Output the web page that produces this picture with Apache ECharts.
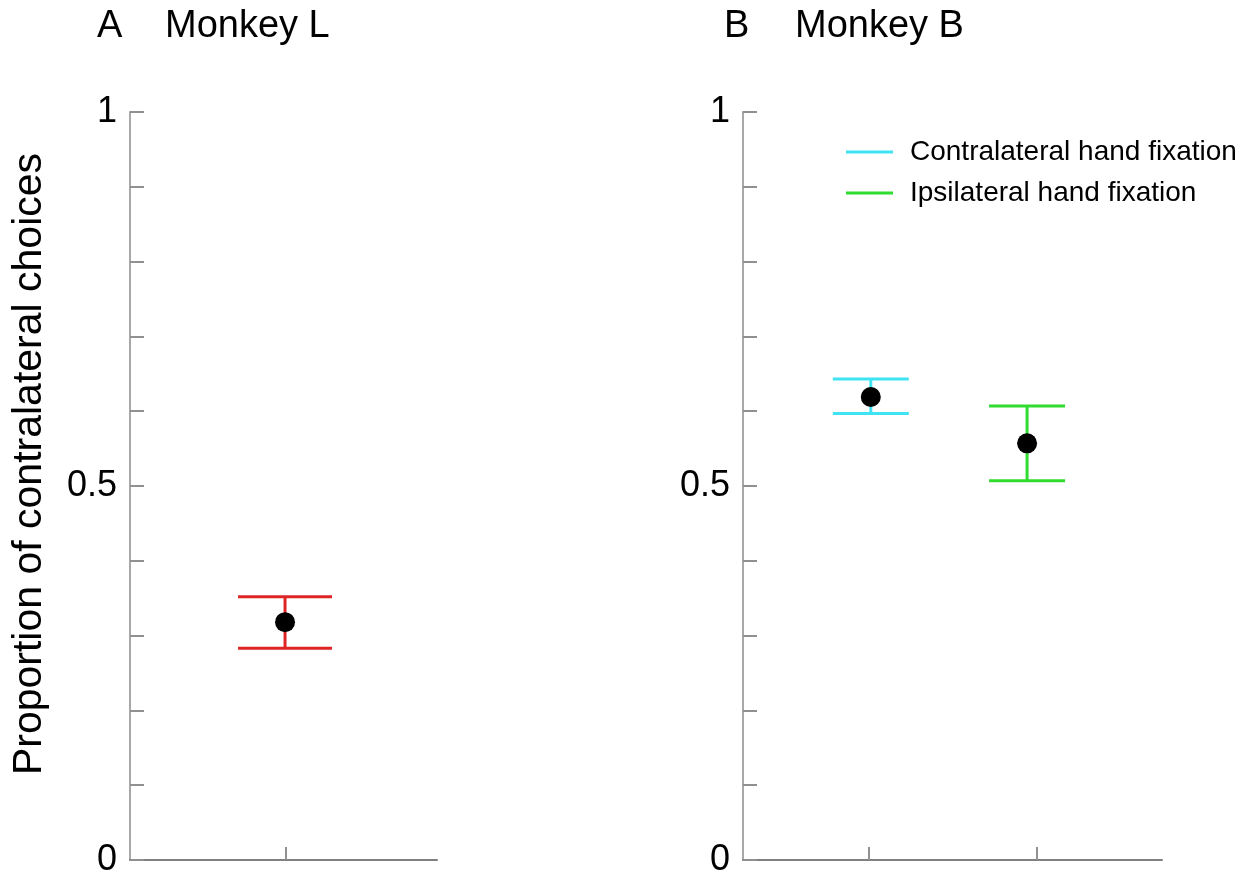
<!DOCTYPE html>
<html>
<head>
<meta charset="utf-8">
<script src="https://cdn.jsdelivr.net/npm/echarts@6/dist/echarts.min.js"></script>
<style>html,body{margin:0;padding:0;background:#fff}#c{width:1252px;height:871px}</style>
</head>
<body>
<div id="c"></div>
<script>
// ---- data ----
const monkeyLX = [0.505];
const monkeyLMean = [0.318];
const monkeyLLow = [0.283];
const monkeyLHigh = [0.352];

const contraX = [0.305];
const contraMean = [0.619];
const contraLow = [0.597];
const contraHigh = [0.643];

const ipsiX = [0.678];
const ipsiMean = [0.557];
const ipsiLow = [0.507];
const ipsiHigh = [0.607];

const xTicksA = [0.508];
const xTicksB = [0.3, 0.7];
const yTickLabels = [0, 0.5, 1];
const legendNames = ['Contralateral hand fixation', 'Ipsilateral hand fixation'];

// ---- helpers ----
const FONT = 'Liberation Sans, Arial, sans-serif';
function rows(xs, a, b) { return xs.map((x, i) => [x, a[i], b[i]]); }
function pts(xs, ys) { return xs.map((x, i) => [x, ys[i]]); }
function errRender(capHalf) {
  return function (params, api) {
    const x = api.value(0), lo = api.value(1), hi = api.value(2);
    const pLo = api.coord([x, lo]);
    const pHi = api.coord([x, hi]);
    const style = { stroke: api.visual('color'), lineWidth: 3 };
    return {
      type: 'group',
      children: [
        { type: 'line', shape: { x1: pLo[0], y1: pLo[1], x2: pHi[0], y2: pHi[1] }, style: style },
        { type: 'line', shape: { x1: pHi[0] - capHalf, y1: pHi[1], x2: pHi[0] + capHalf, y2: pHi[1] }, style: style },
        { type: 'line', shape: { x1: pLo[0] - capHalf, y1: pLo[1], x2: pLo[0] + capHalf, y2: pLo[1] }, style: style }
      ]
    };
  };
}
function yAxis(idx) {
  return {
    type: 'value', gridIndex: idx, min: 0, max: 1, interval: 0.1,
    axisLine: { show: true, lineStyle: { color: '#a8a8a8', width: 2 } },
    axisTick: { show: true, inside: true, length: 14, lineStyle: { color: '#909090', width: 2 } },
    axisLabel: {
      customValues: yTickLabels, margin: 13, fontSize: 36, color: '#000', fontFamily: FONT,
      formatter: v => String(v)
    },
    splitLine: { show: false }
  };
}
function xAxis(idx, ticks) {
  return {
    type: 'value', gridIndex: idx, min: 0, max: 1,
    axisLine: { show: true, onZero: false, lineStyle: { color: '#808080', width: 2 } },
    axisTick: { show: true, inside: true, length: 13, customValues: ticks, lineStyle: { color: '#909090', width: 2 } },
    axisLabel: { show: false },
    splitLine: { show: false }
  };
}

const chart = echarts.init(document.getElementById('c'));
chart.setOption({
  animation: false,
  backgroundColor: '#fff',
  grid: [
    { left: 130, top: 112, width: 307, height: 748, outerBoundsMode: 'none', containLabel: false },
    { left: 743, top: 112, width: 419, height: 748, outerBoundsMode: 'none', containLabel: false }
  ],
  xAxis: [xAxis(0, xTicksA), xAxis(1, xTicksB)],
  yAxis: [yAxis(0), yAxis(1)],
  legend: {
    data: legendNames,
    orient: 'vertical', left: 846, top: 138, itemGap: 13, padding: 0,
    icon: 'rect', itemWidth: 47, itemHeight: 3, itemStyle: { borderWidth: 0 },
    textStyle: { fontSize: 28, color: '#000', fontFamily: FONT, padding: [0, 0, 0, 12] },
    selectedMode: false
  },
  graphic: [
    { type: 'text', left: 97, top: 8, style: { text: 'A', font: '38px ' + FONT, fill: '#000' } },
    { type: 'text', left: 165, top: 8, style: { text: 'Monkey L', font: '38px ' + FONT, fill: '#000' } },
    { type: 'text', left: 724, top: 8, style: { text: 'B', font: '38px ' + FONT, fill: '#000' } },
    { type: 'text', left: 795, top: 8, style: { text: 'Monkey B', font: '38px ' + FONT, fill: '#000' } },
    { type: 'text', x: 30, y: 464, rotation: Math.PI / 2,
      style: { text: 'Proportion of contralateral choices', font: '41px ' + FONT, fill: '#000', align: 'center', verticalAlign: 'middle' } }
  ],
  series: [
    { type: 'custom', name: 'Monkey L', xAxisIndex: 0, yAxisIndex: 0, renderItem: errRender(47),
      itemStyle: { color: '#de2424' }, encode: { x: 0, y: [1, 2] }, data: rows(monkeyLX, monkeyLLow, monkeyLHigh), z: 2 },
    { type: 'custom', name: legendNames[0], xAxisIndex: 1, yAxisIndex: 1, renderItem: errRender(38),
      itemStyle: { color: '#3fe4f2' }, encode: { x: 0, y: [1, 2] }, data: rows(contraX, contraLow, contraHigh), z: 2 },
    { type: 'custom', name: legendNames[1], xAxisIndex: 1, yAxisIndex: 1, renderItem: errRender(38),
      itemStyle: { color: '#2fdc2f' }, encode: { x: 0, y: [1, 2] }, data: rows(ipsiX, ipsiLow, ipsiHigh), z: 2 },
    { type: 'scatter', xAxisIndex: 0, yAxisIndex: 0, symbolSize: 20, itemStyle: { color: '#000', opacity: 1 }, data: pts(monkeyLX, monkeyLMean), z: 5 },
    { type: 'scatter', xAxisIndex: 1, yAxisIndex: 1, symbolSize: 20, itemStyle: { color: '#000', opacity: 1 }, data: pts(contraX, contraMean), z: 5 },
    { type: 'scatter', xAxisIndex: 1, yAxisIndex: 1, symbolSize: 20, itemStyle: { color: '#000', opacity: 1 }, data: pts(ipsiX, ipsiMean), z: 5 }
  ]
});
</script>
</body>
</html>
